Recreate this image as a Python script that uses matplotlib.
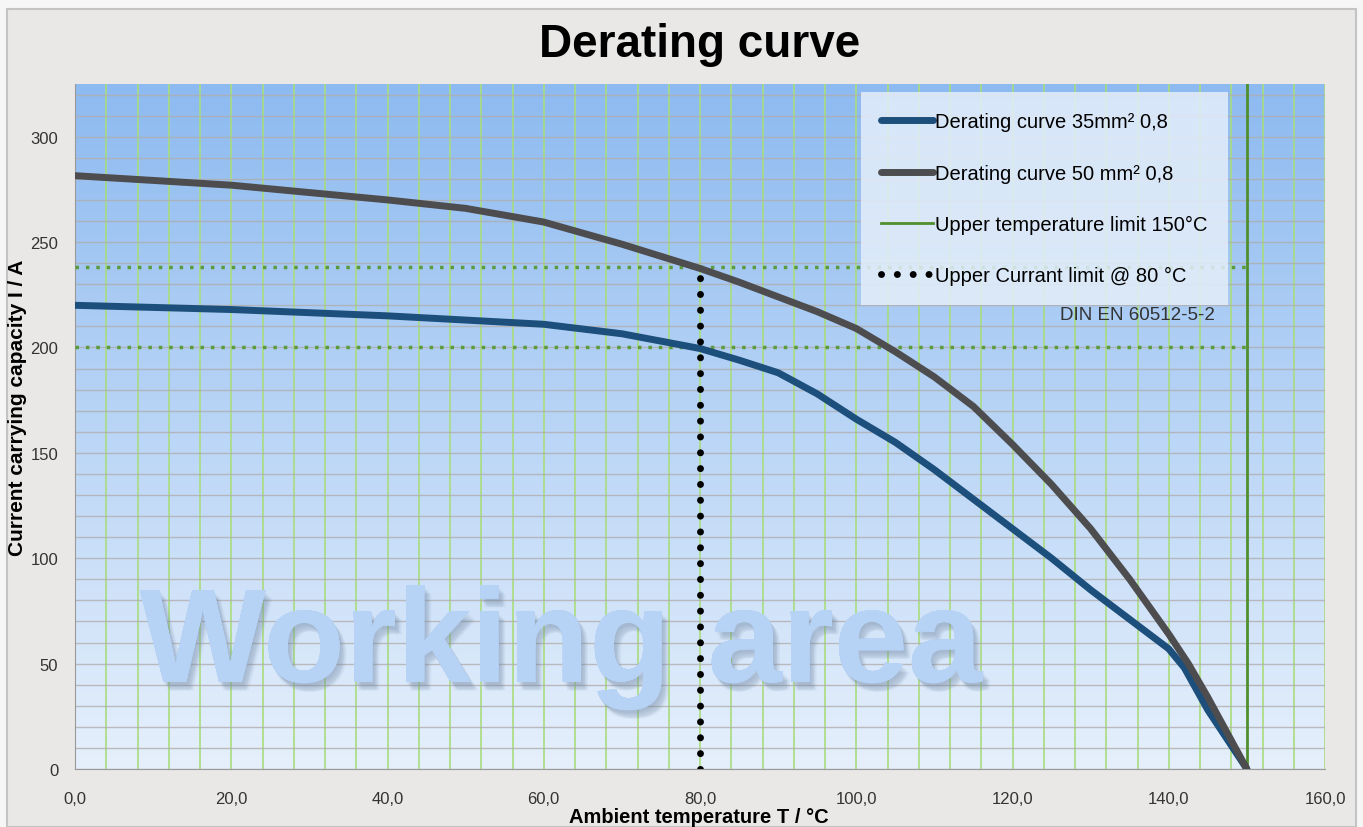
import numpy as np
import matplotlib
matplotlib.use('Agg')
import matplotlib.pyplot as plt
import matplotlib.patheffects as pe
from matplotlib.colors import LinearSegmentedColormap
from matplotlib.patches import Rectangle
from matplotlib.ticker import MultipleLocator, FuncFormatter

# values
temp_35 = [0, 20, 40, 60, 70, 80, 85, 90, 95, 100, 105, 110, 115, 120, 125, 130, 135, 140, 142, 145, 150]
cur_35 = [220, 218, 215, 211, 206.5, 199.5, 194, 188, 178, 166, 155, 142, 128, 114, 100, 85, 71, 57, 48, 28, 0]
temp_50 = [0, 20, 40, 50, 60, 70, 80, 85, 90, 95, 100, 105, 110, 115, 120, 125, 130, 135, 140, 142.5, 145, 150]
cur_50 = [281.5, 277, 270, 266, 259.5, 249, 237.5, 231, 224, 217, 209, 198, 186, 172, 154, 135, 114, 90, 64, 50, 34, 0]
limit_temp = 150
limit_80 = 80
limit_35 = 200
limit_50 = 238
xticks = [0, 20, 40, 60, 80, 100, 120, 140, 160]
yticks = [0, 50, 100, 150, 200, 250, 300]

plt.rcParams['font.family'] = ['Liberation Sans', 'DejaVu Sans']

fig = plt.figure(figsize=(13.63, 8.28), dpi=100)
fig.patch.set_facecolor('#f6f6f6')
fig.patches.append(Rectangle((7 / 1363, 0), 1349 / 1363, 818 / 828, transform=fig.transFigure,
                             facecolor='#e9e8e7', edgecolor='#c4c4c4', lw=1.5, zorder=-1))
ax = fig.add_axes([75 / 1363, 58 / 828, 1250 / 1363, 685 / 828])

# gradient background of the plot area
grad = LinearSegmentedColormap.from_list('bg', ['#e6f0fc', '#8dbaf0'])
ax.imshow(np.linspace(0, 1, 256).reshape(-1, 1), cmap=grad, aspect='auto',
          extent=[0, 160, 0, 325], origin='lower', zorder=0)

ax.set_xlim(0, 160)
ax.set_ylim(0, 325)

# grid
ax.xaxis.set_minor_locator(MultipleLocator(4))
ax.yaxis.set_minor_locator(MultipleLocator(10))
ax.grid(which='both', axis='x', color='#a9dc7e', lw=1.2, zorder=1)
ax.grid(which='both', axis='y', color='#b0aeae', lw=1.0, alpha=0.8, zorder=1)
ax.tick_params(which='both', length=0)
ax.set_xticks(xticks)
ax.set_yticks(yticks)
ax.xaxis.set_major_formatter(FuncFormatter(lambda v, p: f'{v:.1f}'.replace('.', ',')))
ax.tick_params(labelsize=12, colors='#333333')
ax.tick_params(axis='x', pad=16)
ax.tick_params(axis='y', pad=12)
for s in ['top', 'right']:
    ax.spines[s].set_visible(False)
for s in ['left', 'bottom']:
    ax.spines[s].set_color('#9a9a9a')

# watermark with soft shadow
shadow = [pe.withSimplePatchShadow(offset=(dx, dy), shadow_rgbFace='#6d84a0', alpha=0.09)
          for dx, dy in [(1, -2), (2, -3), (3, -4), (4, -5), (3, -6), (5, -6)]]
ax.text(8.3, 41.3, 'Working area', fontsize=96, fontweight='bold', color='#b6d2f5',
        ha='left', va='baseline', zorder=2, path_effects=shadow + [pe.Normal()])

# limit lines
ax.plot([0, limit_temp], [limit_50, limit_50], color='#5c9b3a', lw=2.5, ls=(0, (1, 2)), zorder=3)
ax.plot([0, limit_temp], [limit_35, limit_35], color='#5c9b3a', lw=2.5, ls=(0, (1, 2)), zorder=3)
l4, = ax.plot([limit_80, limit_80], [0, limit_50], color='black', lw=5, ls=(0, (0.01, 2.27)),
              dash_capstyle='round', zorder=5, label='Upper Currant limit @ 80 °C')
l3 = ax.axvline(limit_temp, color='#4f8f2e', lw=2, zorder=3, label='Upper temperature limit 150°C')

l1, = ax.plot(temp_35, cur_35, color='#1c4f7c', lw=5, zorder=4, label='Derating curve 35mm² 0,8',
              solid_capstyle='round')
l2, = ax.plot(temp_50, cur_50, color='#4d4d4f', lw=5, zorder=4, label='Derating curve 50 mm² 0,8',
              solid_capstyle='round')

leg = ax.legend(handles=[l1, l2, l3, l4], loc='upper right', bbox_to_anchor=(0.9224, 0.988),
                fontsize=14.5, frameon=True, fancybox=False, handlelength=2.6, handletextpad=0.1,
                labelspacing=1.6, borderpad=1.0, borderaxespad=0)
leg.get_frame().set_facecolor('#e4eefa')
leg.get_frame().set_alpha(0.85)
leg.get_frame().set_edgecolor('none')
leg.set_zorder(6)

ax.text(0.912, 0.664, 'DIN EN 60512-5-2', transform=ax.transAxes, fontsize=13.5,
        color='#333333', ha='right', va='center', zorder=6)

fig.text(0.513, 0.9456, 'Derating curve', fontsize=33, fontweight='bold', ha='center', va='center')
fig.text(0.0132, 0.508, 'Current carrying capacity I / A', fontsize=15, fontweight='bold',
         rotation=90, ha='center', va='center')
fig.text(0.513, 0.0125, 'Ambient temperature T / °C', fontsize=14.5, fontweight='bold',
         ha='center', va='center')

fig.savefig('out.png', dpi=100, facecolor=fig.get_facecolor())
